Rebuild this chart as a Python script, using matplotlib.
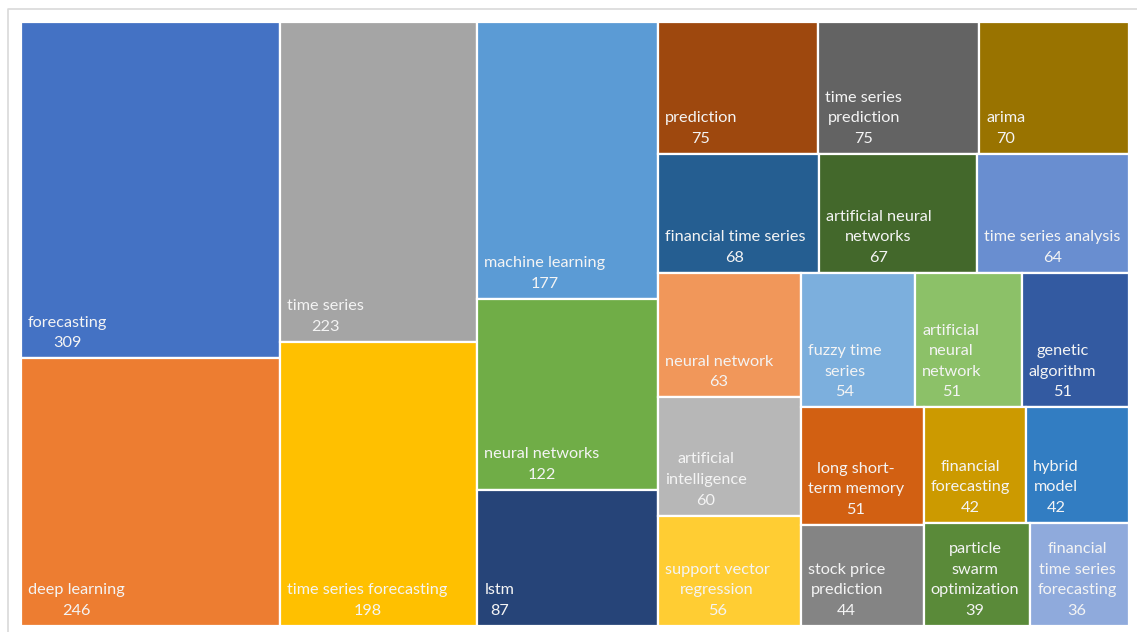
import matplotlib
matplotlib.use('agg')
import matplotlib.pyplot as plt
from matplotlib.patches import Rectangle

# keyword counts, largest first
keywords = ['forecasting', 'deep learning', 'time series', 'time series forecasting',
            'machine learning', 'neural networks', 'lstm', 'prediction',
            'time series\nprediction', 'arima', 'financial time series',
            'artificial neural\nnetworks', 'time series analysis', 'neural network',
            'artificial\nintelligence', 'support vector\nregression', 'fuzzy time\nseries',
            'artificial\nneural\nnetwork', 'genetic\nalgorithm', 'long short-\nterm memory',
            'stock price\nprediction', 'financial\nforecasting', 'hybrid\nmodel',
            'particle\nswarm\noptimization', 'financial\ntime series\nforecasting']
counts = [309, 246, 223, 198, 177, 122, 87, 75, 75, 70, 68, 67, 64, 63,
          60, 56, 54, 51, 51, 51, 44, 42, 42, 39, 36]

# office palette: accents, then darker and lighter variants
palette = ['#4472C4', '#ED7D31', '#A5A5A5', '#FFC000', '#5B9BD5', '#70AD47',
           '#264478', '#9E480E', '#636363', '#997300', '#255E91', '#43682B',
           '#698ED0', '#F1975A', '#B7B7B7', '#FFCD33', '#7CAFDD', '#8CC168',
           '#335AA1', '#D26012', '#848484', '#CC9A00', '#327DC2', '#5A8A39',
           '#8FAADC']


def aspect(a, b):
    return max(a / b, b / a)


def treemap(values, x, y, w, h):
    # strip layout: keep adding to a strip while the newest tile gets squarer
    rects = []
    i = 0
    n = len(values)
    while i < n:
        total = sum(values[i:])
        vertical = w >= h
        side = h if vertical else w
        area = w * h / total
        k = 1
        s = values[i]
        thick = s * area / side
        last = aspect(thick, side * values[i] / s)
        while i + k < n:
            s2 = s + values[i + k]
            thick2 = s2 * area / side
            new = aspect(thick2, side * values[i + k] / s2)
            if new > last:
                break
            s, thick, last = s2, thick2, new
            k += 1
        if i + k == n:
            thick = w if vertical else h
        pos = 0.0
        for v in values[i:i + k]:
            length = side * v / s
            if vertical:
                rects.append((x, y + pos, thick, length))
            else:
                rects.append((x + pos, y, length, thick))
            pos += length
        if vertical:
            x += thick
            w -= thick
        else:
            y += thick
            h -= thick
        i += k
    return rects


W, H = 1137, 632
fig = plt.figure(figsize=(W / 100, H / 100), dpi=100)
ax = fig.add_axes([0, 0, 1, 1])
ax.set_xlim(0, W)
ax.set_ylim(H, 0)
ax.axis('off')

# chart frame
ax.plot([8, 8, W], [H, 9, 9], color='#D9D9D9', lw=1.2)

rects = treemap(counts, 21, 22, 1108, 604)
for (rx, ry, rw, rh), name, val, col in zip(rects, keywords, counts, palette):
    ax.add_patch(Rectangle((rx, ry), rw, rh, facecolor=col, edgecolor='white', lw=1.6))
    ax.text(rx + 7, ry + rh - 8, f'{name}\n{val}', ha='left', va='bottom',
            multialignment='center', color='#F4F4F4', fontsize=11.7,
            family='Lato', linespacing=1.6)

fig.savefig('out.png', dpi=100, facecolor='white')
